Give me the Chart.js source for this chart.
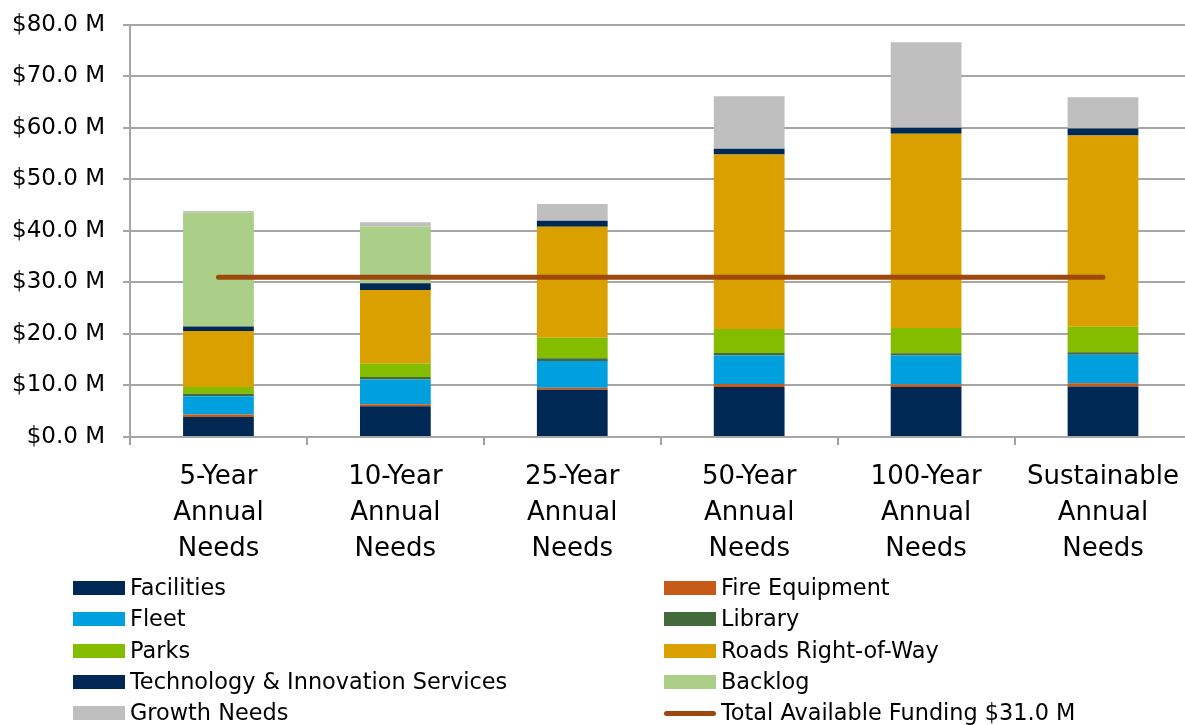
<!DOCTYPE html>
<html>
<head>
<meta charset="utf-8">
<script src="https://cdn.jsdelivr.net/npm/chart.js@4.4.1/dist/chart.umd.min.js"></script>
<style>
  html, body { margin: 0; padding: 0; background: #fff; overflow: hidden; width: 1185px; height: 725px; }
  #wrap { position: absolute; left: 0; top: -7px; width: 1193px; height: 582px; }
  #legend { position: absolute; left: 0; top: 572px; width: 1185px; height: 153px; font-family: "DejaVu Sans", sans-serif; font-size: 22.4px; color: #000; }
  .item { position: absolute; height: 31px; line-height: 31px; white-space: nowrap; }
  .box { position: absolute; width: 52px; height: 14px; top: 9px; left: 0; }
  .lineSym { position: absolute; width: 52px; height: 5px; top: 14px; left: 0; border-radius: 3px; }
  .txt { position: absolute; left: 57px; top: 0; }
</style>
</head>
<body>
<div id="wrap"><canvas id="c" width="1193" height="582"></canvas></div>
<div id="legend"></div>
<script>
const categories = [
  ["5-Year", "Annual", "Needs"],
  ["10-Year", "Annual", "Needs"],
  ["25-Year", "Annual", "Needs"],
  ["50-Year", "Annual", "Needs"],
  ["100-Year", "Annual", "Needs"],
  ["Sustainable", "Annual", "Needs"]
];
const facilities = [3.9, 5.95, 9.15, 9.7, 9.7, 9.8];
const fireEquipment = [0.45, 0.4, 0.4, 0.6, 0.5, 0.65];
const fleet = [3.55, 4.8, 5.2, 5.5, 5.6, 5.5];
const library = [0.5, 0.5, 0.55, 0.5, 0.45, 0.5];
const parks = [1.3, 2.6, 3.95, 4.65, 4.9, 4.95];
const roads = [10.85, 14.3, 21.55, 33.9, 37.7, 37.1];
const technology = [0.9, 1.3, 1.15, 1.1, 1.15, 1.35];
const backlog = [22.1, 11.0, 0, 0, 0, 0];
const growthNeeds = [0.3, 0.85, 3.25, 10.2, 16.6, 6.1];
const totalFunding = [31.0, 31.0, 31.0, 31.0, 31.0, 31.0];
const yTicks = [0, 10, 20, 30, 40, 50, 60, 70, 80];

function bar(label, data, color) {
  return { type: 'bar', label, data, backgroundColor: color, borderWidth: 0, stack: 's', order: 2,
           barPercentage: 0.4, categoryPercentage: 1.0 };
}
const datasets = [
  bar('Facilities', facilities, '#002855'),
  bar('Fire Equipment', fireEquipment, '#C65A16'),
  bar('Fleet', fleet, '#00A0DF'),
  bar('Library', library, '#436A3B'),
  bar('Parks', parks, '#84BD00'),
  bar('Roads Right-of-Way', roads, '#DAA000'),
  bar('Technology & Innovation Services', technology, '#002855'),
  bar('Backlog', backlog, '#ABCE88'),
  bar('Growth Needs', growthNeeds, '#BFBFBF'),
  { type: 'line', label: 'Total Available Funding $31.0 M', data: totalFunding,
    borderColor: '#9E480E', borderWidth: 5, borderCapStyle: 'round', pointRadius: 0,
    pointHoverRadius: 0, fill: false, order: 1, tension: 0 }
];

const chart = new Chart(document.getElementById('c'), {
  data: { labels: categories, datasets },
  options: {
    responsive: false,
    animation: false,
    layout: { padding: { top: 17, right: 0, left: 0, bottom: 0 } },
    plugins: { legend: { display: false }, tooltip: { enabled: false } },
    scales: {
      x: {
        stacked: true,
        offset: true,
        grid: { display: true, offset: true, drawOnChartArea: false, color: '#A0A0A0', lineWidth: 2, tickLength: 8 },
        border: { display: false },
        ticks: { color: '#000', font: { family: 'DejaVu Sans', size: 26, lineHeight: 1.385 }, padding: 14, maxRotation: 0, autoSkip: false },
        afterFit: s => { s.height = 138; }
      },
      y: {
        stacked: true,
        min: 0, max: 80,
        afterBuildTicks: s => { s.ticks = yTicks.map(v => ({ value: v })); },
        grid: { color: '#A6A6A6', lineWidth: 2, tickLength: 7 },
        border: { display: true, color: '#A6A6A6', width: 2 },
        ticks: { color: '#000', font: { family: 'DejaVu Sans', size: 23 }, padding: 18,
                 callback: v => '$' + Number(v).toFixed(1) + ' M' },
        afterFit: s => { s.width = 130; }
      }
    }
  }
});

// HTML legend in two columns, built from the chart datasets
const leg = document.getElementById('legend');
const colX = [73, 664];
chart.data.datasets.forEach((ds, i) => {
  const row = Math.floor(i / 2), col = i % 2;
  const it = document.createElement('div');
  it.className = 'item';
  it.style.left = colX[col] + 'px';
  it.style.top = (row * 31.3) + 'px';
  const sym = document.createElement('div');
  if (ds.type === 'line') { sym.className = 'lineSym'; sym.style.background = ds.borderColor; }
  else { sym.className = 'box'; sym.style.background = ds.backgroundColor; }
  const t = document.createElement('span');
  t.className = 'txt';
  t.textContent = ds.label;
  it.appendChild(sym); it.appendChild(t);
  leg.appendChild(it);
});
</script>
</body>
</html>
